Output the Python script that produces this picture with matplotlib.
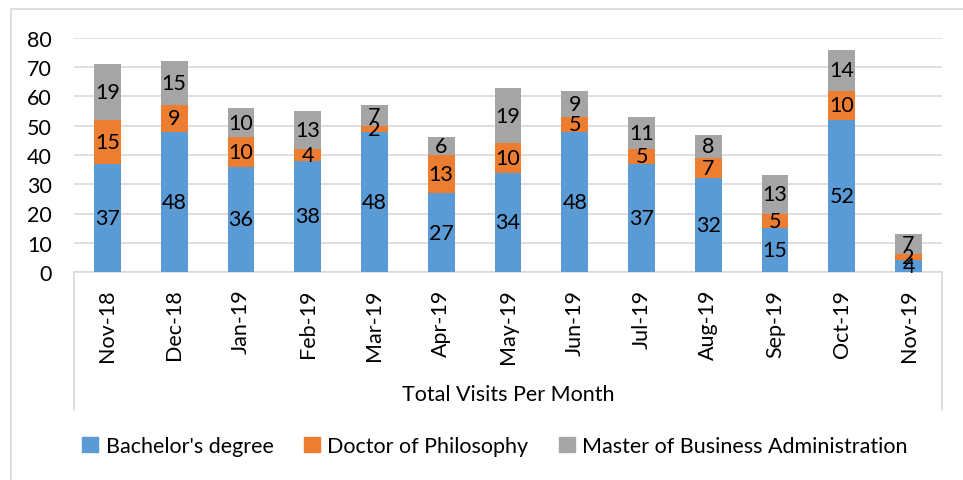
import matplotlib
matplotlib.use("Agg")
import matplotlib.pyplot as plt
from matplotlib.patches import Rectangle
from matplotlib.lines import Line2D
import numpy as np

months = ["Nov-18", "Dec-18", "Jan-19", "Feb-19", "Mar-19", "Apr-19", "May-19",
          "Jun-19", "Jul-19", "Aug-19", "Sep-19", "Oct-19", "Nov-19"]
bachelor = [37, 48, 36, 38, 48, 27, 34, 48, 37, 32, 15, 52, 4]
doctor = [15, 9, 10, 4, 2, 13, 10, 5, 5, 7, 5, 10, 2]
mba = [19, 15, 10, 13, 7, 6, 19, 9, 11, 8, 13, 14, 7]
series_names = ["Bachelor's degree", "Doctor of Philosophy", "Master of Business Administration"]
colors = ["#5B9BD5", "#ED7D31", "#A5A5A5"]
xlabel = "Total Visits Per Month"

plt.rcParams['font.family'] = ['Lato', 'DejaVu Sans']
FS = 15.5
W, H = 963, 481
fig = plt.figure(figsize=(W / 100, H / 100), dpi=100)

def fx(px):
    return px / W

def fy(py):
    return 1 - py / H

ax_l, ax_r, ax_t, ax_b = 74, 942, 39, 273
ax = fig.add_axes([fx(ax_l), fy(ax_b), fx(ax_r - ax_l), (ax_b - ax_t) / H])

x = np.arange(len(months))
bottom = np.zeros(len(months))
for vals, name, c in zip([bachelor, doctor, mba], series_names, colors):
    bars = ax.bar(x, vals, 0.4, bottom=bottom, color=c, label=name, zorder=3)
    ax.bar_label(bars, labels=[str(v) for v in vals], label_type='center',
                 fontsize=FS, color='black', zorder=4)
    bottom = bottom + np.array(vals)

ax.set_xlim(-0.5, len(months) - 0.5)
ax.set_ylim(0, 80)
ax.set_yticks(range(0, 81, 10))
ax.yaxis.grid(True, color='#D9D9D9', linewidth=1.2, zorder=0)
ax.set_axisbelow(True)
for s in ['top', 'right', 'left']:
    ax.spines[s].set_visible(False)
ax.spines['bottom'].set_color('#D9D9D9')
ax.spines['bottom'].set_linewidth(1.2)
ax.tick_params(axis='y', length=0, pad=16, labelsize=FS)
ax.tick_params(axis='x', length=0, pad=12, labelsize=FS)
ax.set_xticks(x)
ax.set_xticklabels(months, rotation=90)

# category axis box sides
for px in (ax_l, ax_r):
    fig.add_artist(Line2D([fx(px), fx(px)], [fy(273), fy(411)], color='#D9D9D9', linewidth=1.2))

fig.text(fx((ax_l + ax_r) / 2), fy(395), xlabel, ha='center', va='center', fontsize=FS)

handles = [Rectangle((0, 0), 1, 1, color=c) for c in colors]
fig.legend(handles, series_names, loc='center', bbox_to_anchor=(fx(495), fy(447)),
           ncol=3, frameon=False, fontsize=FS, handlelength=0.75, handleheight=0.75,
           handletextpad=0.35, columnspacing=1.4)

# chart border
fig.add_artist(Rectangle((fx(11), fy(H + 5)), fx(W + 5), (H + 5 - 10) / H, fill=False,
                         edgecolor='#D9D9D9', linewidth=1.2))

fig.savefig("out.png", dpi=100)
